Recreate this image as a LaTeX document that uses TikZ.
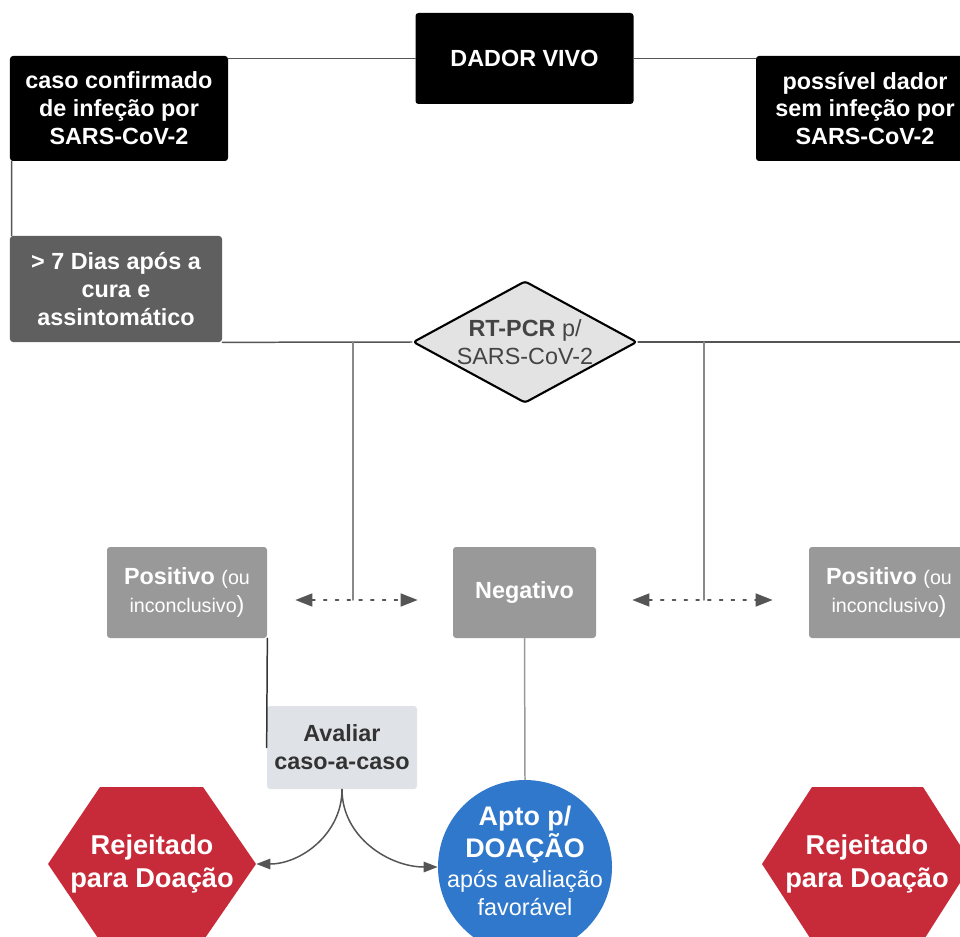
\documentclass[tikz,border=0pt]{standalone}
\usepackage{fontspec}
\setmainfont{Liberation Sans}
\usetikzlibrary{shapes.geometric,arrows.meta}

\definecolor{diasgray}{HTML}{5F5F5F}
\definecolor{resgray}{HTML}{999999}
\definecolor{avalfill}{HTML}{DFE3E8}
\definecolor{avaltext}{HTML}{333333}
\definecolor{pcrfill}{HTML}{E3E3E3}
\definecolor{pcrtext}{HTML}{444444}
\definecolor{rejred}{HTML}{C72A39}
\definecolor{aptoblue}{HTML}{2F78CB}
\definecolor{linkgray}{HTML}{555555}
\definecolor{stemgray}{HTML}{888888}

\begin{document}
\begin{tikzpicture}[x=0.2mm,y=0.2mm,line cap=round,line join=round,
  every node/.style={align=center,inner sep=0pt},
  blackbox/.style={fill=black,text=white,rounded corners=0.6mm,minimum width=43.6mm,
    font=\fontsize{13.3}{15.9}\selectfont\bfseries},
  resbox/.style={fill=resgray,text=white,rounded corners=0.6mm,minimum height=18.2mm,
    font=\fontsize{13.3}{15.9}\selectfont},
  link/.style={draw=linkgray,line width=0.85pt},
  dotlink/.style={draw=linkgray,line width=0.85pt,dash pattern=on 1.7pt off 5pt,
    {Triangle[length=3.4mm,width=2.6mm]}-{Triangle[length=3.4mm,width=2.6mm]}},
  curvlink/.style={draw=linkgray,line width=0.85pt,-{Triangle[length=2.8mm,width=2.1mm]}}]
  \useasboundingbox (0,0) rectangle (960,-937);
  \clip (0,0) rectangle (960,-937);

  \node[blackbox,minimum height=18.2mm] (dador) at (524.5,-58.5) {DADOR VIVO};
  \node[blackbox,minimum height=21mm] (casoconf) at (119,-108.5)
    {caso confirmado\\de infeção por\\SARS-CoV-2};
  \node[blackbox,minimum height=21mm] (possivel) at (865,-108.5)
    {possível dador\\sem infeção por\\SARS-CoV-2};
  \node[blackbox,fill=diasgray,minimum width=42.4mm,minimum height=21.2mm] (dias) at (116,-289)
    {> 7 Dias após a\\cura e\\assintomático};
  \node[diamond,aspect=1.84,fill=pcrfill,draw=black,line width=1.2pt,rounded corners=0.6mm,
    minimum width=44.8mm,minimum height=24.4mm,text=pcrtext,
    font=\fontsize{13.3}{15.9}\selectfont] (rtpcr) at (525,-342)
    {\textbf{RT-PCR} p/\\SARS-CoV-2};

  \node[resbox,minimum width=32mm] (posL) at (187,-592.5)
    {\textbf{Positivo} {\fontsize{11.2}{15.9}\selectfont(ou}\\{\fontsize{11.2}{15.9}\selectfont inconclusivo})};
  \node[resbox,minimum width=28.6mm,font=\fontsize{13.3}{15.9}\selectfont\bfseries] (negat) at (524.5,-592.5)
    {Negativo};
  \node[resbox,minimum width=32mm] (posR) at (889,-592.5)
    {\textbf{Positivo} {\fontsize{11.2}{15.9}\selectfont(ou}\\{\fontsize{11.2}{15.9}\selectfont inconclusivo})};
  \node[fill=avalfill,text=avaltext,rounded corners=0.6mm,minimum width=30mm,minimum height=16.6mm,
    font=\fontsize{13.3}{15.9}\selectfont\bfseries] (avaliar) at (342,-747.5)
    {Avaliar\\caso-a-caso};

  \fill[rejred] (48,-864) -- (100,-787) -- (203,-787) -- (256,-864) -- (203,-941) -- (100,-941) -- cycle;
  \fill[rejred] (762,-864) -- (812,-787) -- (923,-787) -- (972,-864) -- (923,-941) -- (812,-941) -- cycle;
  \node[minimum width=41.6mm,minimum height=30.8mm,text=white,
    font=\fontsize{15.5}{18.7}\selectfont\bfseries] (rejL) at (152,-864) {Rejeitado\\para Doação};
  \node[minimum width=42mm,minimum height=30.8mm,text=white,
    font=\fontsize{15.5}{18.7}\selectfont\bfseries] (rejR) at (867,-864) {Rejeitado\\para Doação};
  \node[circle,fill=aptoblue,inner sep=-2.4mm,minimum size=34.8mm,text=white,
    font=\fontsize{13.3}{15.9}\selectfont] (apto) at (525,-867)
    {\textbf{\fontsize{15.3}{16.5}\selectfont Apto p/}\\\textbf{\fontsize{15.3}{16.5}\selectfont DOAÇÃO}\\[1.4pt]após avaliação\\favorável\\[-9pt]};

  \coordinate (tL) at (353,-342);
  \coordinate (jL) at (353,-600);
  \coordinate (tR) at (704,-342);
  \coordinate (jR) at (704,-600);
  \coordinate (edgeR) at (980,-342);

  \draw[link] (dador.west) -- (dador.west -| casoconf.east);
  \draw[link] (dador.east) -- (dador.east -| possivel.west);
  \draw[link] ([xshift=0.4mm]casoconf.south west) -- ([xshift=0.4mm]dias.north west);
  \draw[link] (dias.south east) -- (rtpcr.west);
  \draw[link] (rtpcr.east) -- (edgeR);
  \draw[link,draw=stemgray] (tL) -- (jL);
  \draw[link,draw=stemgray] (tR) -- (jR);
  \draw[dotlink] ([xshift=5.6mm]posL.east |- jL) -- ([xshift=-7mm]negat.west |- jL);
  \draw[dotlink] ([xshift=7.2mm]negat.east |- jR) -- ([xshift=-7.2mm]posR.west |- jR);
  \draw[link,draw=avaltext] (posL.south east) -- (avaliar.west);
  \draw[link,draw=resgray] (negat.south) -- (apto.north);
  \draw[curvlink] (avaliar.south) to[out=-90,in=0] (rejL.east);
  \draw[curvlink] (avaliar.south) to[out=-90,in=180] (apto.west);
\end{tikzpicture}
\end{document}
